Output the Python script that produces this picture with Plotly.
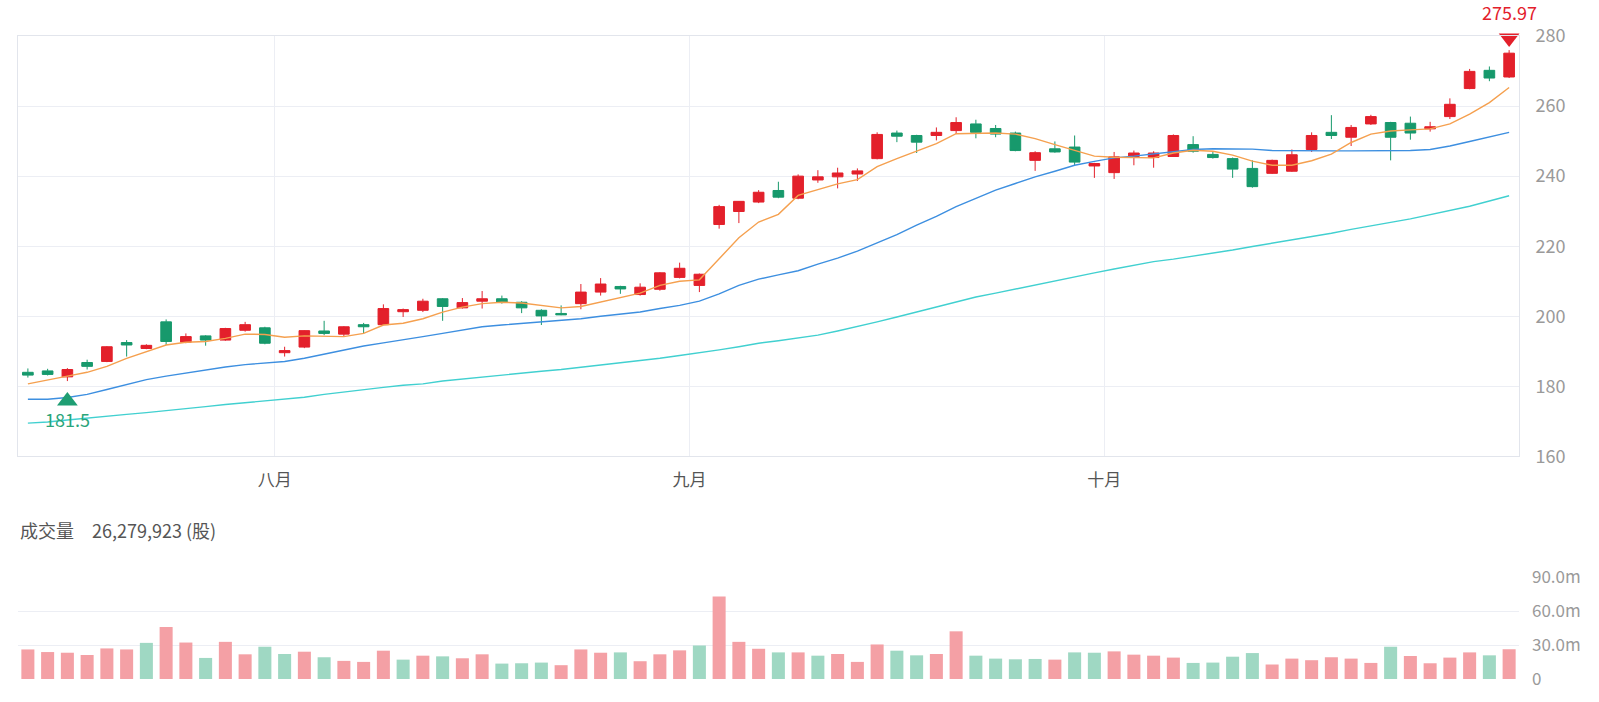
import plotly.graph_objects as go

# ---------------- data ----------------
open_ = [184.0, 184.4, 182.7, 186.8, 187.1, 192.5, 190.8, 198.4, 192.6, 194.4,
         193.2, 196.0, 196.7, 189.6, 191.2, 195.8, 194.9, 197.6, 197.6, 201.3,
         201.7, 205.0, 202.4, 204.3, 205.0, 204.0, 201.7, 200.8, 203.6, 206.9,
         208.5, 206.2, 207.7, 211.1, 208.8, 226.2, 229.9, 232.6, 235.9, 233.7,
         238.9, 239.8, 240.6, 245.0, 252.3, 251.6, 251.6, 253.0, 254.9, 253.6,
         252.3, 244.5, 247.8, 248.3, 242.9, 241.0, 245.6, 245.3, 245.6, 249.0,
         246.2, 245.0, 242.2, 240.8, 241.4, 247.6, 252.5, 251.1, 254.9, 255.3,
         255.1, 253.5, 257.0, 265.0, 270.2, 268.3]
high = [185.1, 185.0, 185.2, 187.6, 191.5, 193.2, 192.0, 199.1, 195.1, 194.6,
        196.7, 198.4, 197.0, 191.3, 196.0, 198.7, 197.2, 198.1, 203.4, 202.2,
        205.0, 205.2, 205.2, 207.2, 205.9, 204.3, 202.0, 203.1, 209.2, 210.9,
        208.7, 209.4, 212.6, 215.3, 212.2, 231.8, 232.9, 236.0, 238.4, 240.5,
        241.7, 242.4, 242.2, 252.5, 253.0, 251.8, 253.9, 256.8, 256.1, 254.6,
        252.7, 247.1, 249.9, 251.6, 243.8, 246.9, 247.3, 247.1, 251.9, 251.4,
        247.1, 245.3, 244.5, 244.7, 247.6, 252.5, 257.4, 254.6, 257.5, 255.5,
        257.0, 255.5, 262.2, 270.6, 271.3, 275.97]
low = [182.5, 183.1, 181.5, 184.8, 186.9, 188.5, 190.6, 191.8, 192.3, 191.6,
       193.0, 195.6, 192.0, 188.5, 190.9, 194.6, 194.2, 195.1, 197.5, 199.8,
       201.2, 198.7, 202.2, 202.2, 203.6, 200.9, 197.5, 200.3, 202.0, 205.9,
       206.4, 205.9, 207.3, 210.8, 206.9, 225.0, 226.6, 232.3, 233.7, 233.4,
       238.1, 236.5, 238.6, 244.8, 249.7, 246.6, 250.2, 252.0, 250.8, 251.1,
       247.1, 241.5, 246.7, 243.1, 239.5, 239.2, 243.1, 242.4, 245.5, 246.7,
       245.0, 239.5, 236.7, 240.6, 241.2, 246.9, 250.6, 248.6, 254.6, 244.5,
       250.4, 252.7, 256.3, 264.8, 267.1, 268.0]
close = [183.2, 183.4, 184.8, 185.7, 191.3, 191.8, 191.7, 192.8, 194.2, 193.2,
         196.5, 197.6, 192.3, 190.2, 195.9, 195.1, 197.0, 197.0, 202.2, 201.9,
         204.3, 202.8, 203.9, 205.0, 204.0, 202.4, 200.1, 200.4, 206.9, 209.2,
         207.8, 208.3, 212.4, 213.7, 212.0, 231.3, 232.8, 235.4, 234.0, 240.0,
         239.8, 240.9, 241.5, 251.9, 251.4, 249.7, 252.5, 255.3, 252.5, 252.0,
         247.3, 246.7, 246.9, 244.0, 243.6, 245.5, 246.6, 246.6, 251.6, 247.1,
         245.3, 242.0, 237.0, 244.5, 246.1, 251.6, 251.6, 253.9, 257.0, 251.1,
         252.3, 254.1, 260.5, 269.9, 268.0, 275.1]

ma5 = [180.7, 181.7, 182.9, 184.0, 185.7, 188.0, 189.9, 191.8, 192.6, 192.8,
       193.7, 194.9, 194.8, 194.0, 194.4, 194.4, 194.2, 195.1, 197.5, 198.0,
       199.3, 201.2, 202.6, 203.6, 204.0, 203.8, 203.1, 202.4, 202.8, 204.0,
       205.2, 206.6, 208.8, 210.0, 210.4, 216.3, 222.4, 226.9, 229.1, 234.5,
       236.1, 237.8, 239.0, 242.7, 245.0, 247.1, 249.3, 252.1, 252.2, 252.3,
       252.0, 250.7, 249.0, 247.3, 245.7, 245.4, 245.2, 245.2, 246.6, 247.4,
       247.1, 246.0, 244.3, 243.1, 243.1, 244.4, 246.3, 249.6, 252.0, 252.9,
       253.2, 253.5, 254.9, 257.7, 261.0, 265.3]
ma20 = [176.3, 176.3, 176.8, 177.7, 179.1, 180.5, 181.9, 182.9, 183.8, 184.6,
        185.5, 186.2, 186.6, 187.1, 188.0, 189.2, 190.4, 191.5, 192.4, 193.2,
        194.2, 195.1, 196.0, 197.0, 197.5, 197.9, 198.3, 198.9, 199.3, 200.0,
        200.5, 201.2, 202.2, 203.1, 204.3, 206.4, 208.8, 210.6, 211.8, 213.0,
        214.9, 216.6, 218.6, 221.0, 223.3, 226.0, 228.5, 231.3, 233.7, 236.0,
        237.9, 239.8, 241.4, 243.1, 244.2, 245.2, 245.7, 246.4, 246.9, 247.6,
        247.8, 247.8, 247.7, 247.3, 247.2, 247.2, 247.2, 247.2, 247.2, 247.2,
        247.3, 247.6, 248.6, 249.9, 251.3, 252.5]
ma60 = [169.5, 169.8, 170.4, 171.0, 171.6, 172.0, 172.5, 173.0, 173.6, 174.2,
        174.8, 175.3, 175.8, 176.3, 176.9, 177.7, 178.4, 179.2, 179.7, 180.3,
        180.7, 181.5, 182.1, 182.7, 183.2, 183.8, 184.3, 184.8, 185.4, 186.0,
        186.6, 187.3, 188.0, 188.8, 189.5, 190.4, 191.3, 192.3, 193.0, 193.7,
        194.6, 195.8, 197.0, 198.4, 199.8, 201.2, 202.6, 204.0, 205.5, 206.6,
        207.8, 209.0, 210.2, 211.3, 212.4, 213.5, 214.6, 215.6, 216.3, 217.1,
        218.1, 218.9, 219.9, 220.8, 221.7, 222.7, 223.7, 224.8, 225.9, 226.8,
        227.8, 229.0, 230.1, 231.4, 232.9, 234.4]

# volume in millions of shares, and whether the bar is drawn "up" (red)
volume_m = [26.1, 23.8, 23.2, 21.2, 27.0, 26.1, 31.9, 45.9, 32.2, 18.6,
            32.8, 21.8, 28.5, 22.1, 24.1, 19.2, 16.0, 15.1, 25.0, 17.1,
            20.6, 20.0, 18.3, 21.8, 13.6, 13.9, 14.5, 12.2, 26.1, 23.2,
            23.5, 15.7, 21.8, 25.3, 29.6, 72.9, 32.8, 26.7, 23.5, 23.5,
            20.6, 22.1, 15.1, 30.5, 25.0, 20.9, 22.1, 42.1, 20.6, 18.0,
            17.4, 17.7, 17.1, 23.5, 23.2, 24.4, 21.5, 20.6, 18.9, 14.2,
            14.5, 19.7, 22.9, 12.8, 18.0, 16.6, 19.2, 18.0, 14.2, 28.5,
            20.3, 13.9, 18.9, 23.5, 20.9, 26.279923]
volume_up = [1, 1, 1, 1, 1, 1, 0, 1, 1, 0,
             1, 1, 0, 0, 1, 0, 1, 1, 1, 0,
             1, 0, 1, 1, 0, 0, 0, 1, 1, 1,
             0, 1, 1, 1, 0, 1, 1, 1, 0, 1,
             0, 1, 1, 1, 0, 0, 1, 1, 0, 0,
             0, 0, 1, 0, 0, 1, 1, 1, 1, 0,
             0, 0, 0, 1, 1, 1, 1, 1, 1, 0,
             1, 1, 1, 1, 0, 1]

month_labels = ["八月", "九月", "十月"]
month_start_index = [13, 34, 55]
volume_ticks_m = [0, 30, 60, 90]
volume_ticktext = ["0", "30.0m", "60.0m", "90.0m"]

# ---------------- styling ----------------
RED = "#e3202b"
GREEN = "#17996c"
VOL_RED = "#f4a0a5"
VOL_GREEN = "#9fd8c3"
GRID = "#eceef4"
FONT = "Noto Sans CJK SC, Noto Sans, sans-serif"

n = len(close)
idx = list(range(n))
volume = [v * 1e6 for v in volume_m]

fig = go.Figure()

fig.add_trace(go.Candlestick(
    x=idx, open=open_, high=high, low=low, close=close,
    increasing=dict(line=dict(color=RED, width=1), fillcolor=RED),
    decreasing=dict(line=dict(color=GREEN, width=1), fillcolor=GREEN),
    whiskerwidth=0, xaxis="x", yaxis="y", showlegend=False, hoverinfo="skip",
))

for vals, col in [(ma60, "#41d0d0"), (ma20, "#3d8fe0"), (ma5, "#f5a04f")]:
    fig.add_trace(go.Scatter(x=idx, y=vals, mode="lines",
                             line=dict(color=col, width=1.4),
                             xaxis="x", yaxis="y", showlegend=False, hoverinfo="skip"))

# min / max markers
i_max = max(idx, key=lambda i: high[i])
i_min = min(idx, key=lambda i: low[i])
fig.add_trace(go.Scatter(x=[i_max], y=[high[i_max]], mode="markers", cliponaxis=False,
                         marker=dict(symbol="triangle-up", angle=180, size=18, color=RED, standoff=12),
                         xaxis="x", yaxis="y", showlegend=False, hoverinfo="skip"))
fig.add_trace(go.Scatter(x=[i_min], y=[low[i_min]], mode="markers", cliponaxis=False,
                         marker=dict(symbol="triangle-up", angle=0, size=18, color="#1f9e73", standoff=20),
                         xaxis="x", yaxis="y", showlegend=False, hoverinfo="skip"))

fig.add_trace(go.Bar(
    x=idx, y=volume,
    marker=dict(color=[VOL_RED if u else VOL_GREEN for u in volume_up], line=dict(width=0)),
    xaxis="x2", yaxis="y2", showlegend=False, hoverinfo="skip",
))

annotations = [
    dict(x=i_max, y=high[i_max], xref="x", yref="y", text=f"{high[i_max]:.2f}",
         showarrow=False, yshift=38, font=dict(size=18, color=RED, family=FONT)),
    dict(x=i_min, y=low[i_min], xref="x", yref="y", text=f"{low[i_min]}",
         showarrow=False, yshift=-38, font=dict(size=18, color="#2aa57a", family=FONT)),
    dict(x=0, y=0.2323, xref="paper", yref="paper", xanchor="left", yanchor="middle",
         text=f"成交量\u3000{int(round(volume[-1])):,} (股)", showarrow=False,
         font=dict(size=18, color="#555555", family=FONT)),
]

fig.update_layout(
    width=1599, height=702,
    margin=dict(l=18, r=80, t=36, b=16),
    paper_bgcolor="white", plot_bgcolor="white",
    font=dict(family=FONT),
    boxgap=0.23, boxgroupgap=0.3,
    bargap=0.34,
    annotations=annotations,
    xaxis=dict(domain=[0, 1], range=[-0.5, n - 0.5],
               tickvals=[s - 0.5 for s in month_start_index], ticktext=month_labels,
               showgrid=True, gridcolor=GRID, zeroline=False,
               showline=True, mirror=True, linecolor="#e2e5ec", linewidth=1,
               ticks="", ticklabelstandoff=8,
               tickfont=dict(size=17, color="#555555", family=FONT),
               rangeslider=dict(visible=False), fixedrange=True),
    yaxis=dict(domain=[0.3462, 1], range=[160, 280], dtick=20, side="right",
               showgrid=True, gridcolor=GRID, zeroline=False,
               showline=True, mirror=True, linecolor="#e2e5ec", linewidth=1,
               ticks="", ticklabelstandoff=12,
               tickfont=dict(size=18, color="#9a9a9a", family=FONT), fixedrange=True),
    xaxis2=dict(domain=[0, 1], matches="x", anchor="y2", showticklabels=False,
                showgrid=False, zeroline=False, showline=False, ticks=""),
    yaxis2=dict(domain=[0, 0.1585], range=[0, 90e6], side="right", anchor="x2",
                tickvals=[t * 1e6 for t in volume_ticks_m], ticktext=volume_ticktext,
                showgrid=True, gridcolor=GRID, zeroline=False, showline=False,
                ticks="", ticklabelstandoff=12,
                tickfont=dict(size=17, color="#9a9a9a", family=FONT), fixedrange=True),
)

fig.write_html("out.html", config=dict(displayModeBar=False, staticPlot=True),
               post_script="document.body.style.margin='0';")
